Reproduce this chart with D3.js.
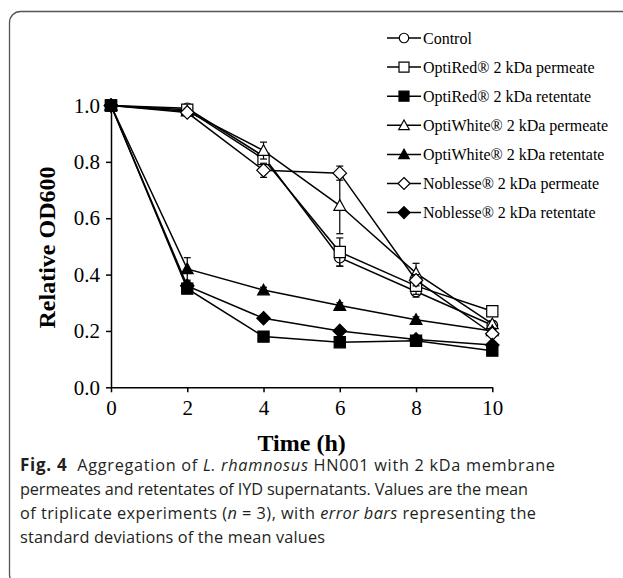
<!DOCTYPE html>
<html>
<head>
<meta charset="utf-8">
<script src="https://cdn.jsdelivr.net/npm/d3@7"></script>
<style>
  body { margin: 0; background: #fff; }
  .axis path, .axis line { stroke: #000; stroke-width: 1.5px; }
  .axis text { font-family: "Liberation Serif", "Times New Roman", serif; font-size: 21px; fill: #000; }
  .axis-title { font-family: "Liberation Serif", "Times New Roman", serif; font-size: 24px; font-weight: bold; fill: #000; }
  .legend text { font-family: "Liberation Serif", "Times New Roman", serif; font-size: 16px; fill: #000; }
  .caption { font-family: "Open Sans", "Noto Sans", sans-serif; font-size: 16.3px; fill: #231f20; }
</style>
</head>
<body>
<svg id="chart" width="623" height="578"></svg>
<script>
// Sampling times (h)
const times = [0, 2, 4, 6, 8, 10];
const xTicks = [0, 2, 4, 6, 8, 10];
const yTicks = [0, 0.2, 0.4, 0.6, 0.8, 1.0];

const seriesNames = [
  'Control',
  'OptiRed® 2 kDa permeate',
  'OptiRed® 2 kDa retentate',
  'OptiWhite® 2 kDa permeate',
  'OptiWhite® 2 kDa retentate',
  'Noblesse® 2 kDa permeate',
  'Noblesse® 2 kDa retentate'
];
const seriesShapes = ['circle', 'square', 'square', 'triangle', 'triangle', 'diamond', 'diamond'];
const seriesFilled = [false, false, true, false, true, false, true];

// Relative OD600 means
const control            = [1.00, 0.99, 0.82, 0.46, 0.34, 0.22];
const optiRedPermeate    = [1.00, 0.985, 0.81, 0.48, 0.36, 0.27];
const optiRedRetentate   = [1.00, 0.35, 0.18, 0.16, 0.165, 0.13];
const optiWhitePermeate  = [1.00, 0.98, 0.84, 0.645, 0.405, 0.225];
const optiWhiteRetentate = [1.00, 0.42, 0.345, 0.29, 0.24, 0.20];
const noblessePermeate   = [1.00, 0.975, 0.77, 0.76, 0.38, 0.19];
const noblesseRetentate  = [1.00, 0.36, 0.245, 0.20, 0.17, 0.15];

// Standard deviations
const controlSd            = [0, 0.01, 0.02, 0.03, 0.02, 0.01];
const optiRedPermeateSd    = [0, 0.01, 0.03, 0.05, 0.03, 0.01];
const optiRedRetentateSd   = [0, 0.01, 0.01, 0.01, 0.01, 0.01];
const optiWhitePermeateSd  = [0, 0.01, 0.03, 0.10, 0.035, 0.01];
const optiWhiteRetentateSd = [0, 0.04, 0.01, 0.01, 0.01, 0.01];
const noblessePermeateSd   = [0, 0.01, 0.025, 0.025, 0.02, 0.01];
const noblesseRetentateSd  = [0, 0.01, 0.01, 0.01, 0.01, 0.01];

const seriesValues = [control, optiRedPermeate, optiRedRetentate, optiWhitePermeate,
  optiWhiteRetentate, noblessePermeate, noblesseRetentate];
const seriesSd = [controlSd, optiRedPermeateSd, optiRedRetentateSd, optiWhitePermeateSd,
  optiWhiteRetentateSd, noblessePermeateSd, noblesseRetentateSd];

function markerPath(shape, s) {
  const p = d3.path();
  if (shape === 'circle') {
    p.arc(0, 0, s * 0.95, 0, 2 * Math.PI);
  } else if (shape === 'square') {
    p.rect(-s, -s, 2 * s, 2 * s);
  } else if (shape === 'triangle') {
    p.moveTo(0, -s * 1.05);
    p.lineTo(s * 1.05, s * 0.85);
    p.lineTo(-s * 1.05, s * 0.85);
    p.closePath();
  } else {
    const d = s * 1.2;
    p.moveTo(0, -d); p.lineTo(d, 0); p.lineTo(0, d); p.lineTo(-d, 0);
    p.closePath();
  }
  return p.toString();
}

class AggregationChart {

  constructor(_config, _data) {
    this.config = {
      parentElement: _config.parentElement,
      margin: {top: 105.5, left: 111},
      innerWidth: 381.3,
      innerHeight: 281.8,
      markerSize: 5.6
    };
    this.data = _data;
    this.initVis();
  }

  initVis() {
    let vis = this;
    vis.svg = d3.select(vis.config.parentElement);

    // rounded frame round the figure
    vis.svg.append('rect')
      .attr('x', 9.5).attr('y', 11.5)
      .attr('width', 640).attr('height', 574)
      .attr('rx', 11).attr('ry', 11)
      .attr('fill', 'none')
      .attr('stroke', '#555')
      .attr('stroke-width', 1.3);

    vis.xScale = d3.scaleLinear().domain([0, 10]).range([0, vis.config.innerWidth]);
    vis.yScale = d3.scaleLinear().domain([0, 1]).range([vis.config.innerHeight, 0]);

    vis.chart = vis.svg.append('g')
      .attr('transform', `translate(${vis.config.margin.left},${vis.config.margin.top})`);

    vis.xAxis = d3.axisBottom(vis.xScale).tickValues(xTicks)
      .tickSize(5).tickSizeOuter(0).tickPadding(10).tickFormat(d3.format('d'));
    vis.yAxis = d3.axisLeft(vis.yScale).tickValues(yTicks)
      .tickSize(5).tickSizeOuter(0).tickPadding(6).tickFormat(d3.format('.1f'));

    vis.xAxisG = vis.chart.append('g')
      .attr('class', 'axis x-axis')
      .attr('transform', `translate(0,${vis.config.innerHeight})`);
    vis.yAxisG = vis.chart.append('g')
      .attr('class', 'axis y-axis');

    vis.line = d3.line()
      .x(d => vis.xScale(d.t))
      .y(d => vis.yScale(d.v));

    vis.renderVis();
  }

  renderVis() {
    let vis = this;
    const m = vis.config.markerSize;

    vis.xAxisG.call(vis.xAxis);
    vis.yAxisG.call(vis.yAxis);
    vis.xAxisG.selectAll('text').attr('dy', '0.71em').attr('y', 13);

    // series: line, error bars, markers (later series drawn on top)
    const seriesG = vis.chart.selectAll('.series')
      .data(vis.data)
      .join('g')
      .attr('class', 'series');

    seriesG.append('path')
      .attr('fill', 'none')
      .attr('stroke', '#000')
      .attr('stroke-width', 1.5)
      .attr('d', s => vis.line(s.points));

    seriesG.each(function(s) {
      const g = d3.select(this);
      const bars = g.selectAll('.err')
        .data(s.points.filter(p => p.sd > 0))
        .join('g')
        .attr('class', 'err')
        .attr('stroke', '#000')
        .attr('stroke-width', 1.2);
      bars.append('line')
        .attr('x1', p => vis.xScale(p.t)).attr('x2', p => vis.xScale(p.t))
        .attr('y1', p => vis.yScale(p.v + p.sd)).attr('y2', p => vis.yScale(p.v - p.sd));
      [1, -1].forEach(sign => {
        bars.append('line')
          .attr('x1', p => vis.xScale(p.t) - 3.5).attr('x2', p => vis.xScale(p.t) + 3.5)
          .attr('y1', p => vis.yScale(p.v + sign * p.sd))
          .attr('y2', p => vis.yScale(p.v + sign * p.sd));
      });

      g.selectAll('.marker')
        .data(s.points)
        .join('path')
        .attr('class', 'marker')
        .attr('transform', p => `translate(${vis.xScale(p.t)},${vis.yScale(p.v)})`)
        .attr('d', markerPath(s.shape, m))
        .attr('fill', s.filled ? '#000' : '#fff')
        .attr('stroke', '#000')
        .attr('stroke-width', 1.2);
    });

    // axis titles
    vis.svg.append('text')
      .attr('class', 'axis-title')
      .attr('text-anchor', 'middle')
      .attr('transform', 'translate(55,247.5) rotate(-90)')
      .text('Relative OD600');

    vis.svg.append('text')
      .attr('class', 'axis-title')
      .attr('text-anchor', 'middle')
      .attr('x', vis.config.margin.left + vis.config.innerWidth / 2)
      .attr('y', 451)
      .text('Time (h)');

    // legend
    const legend = vis.svg.append('g')
      .attr('class', 'legend')
      .attr('transform', 'translate(387,38)');
    const item = legend.selectAll('.item')
      .data(vis.data)
      .join('g')
      .attr('class', 'item')
      .attr('transform', (s, i) => `translate(0,${i * 29.1})`);
    item.append('line')
      .attr('x1', 0).attr('x2', 34)
      .attr('stroke', '#000').attr('stroke-width', 1.5);
    item.append('path')
      .attr('transform', 'translate(17,0)')
      .attr('d', s => markerPath(s.shape, m - 0.6))
      .attr('fill', s => s.filled ? '#000' : '#fff')
      .attr('stroke', '#000')
      .attr('stroke-width', 1.2);
    item.append('text')
      .attr('x', 36)
      .attr('y', 5.5)
      .text(s => s.name);
  }
}

const data = seriesNames.map((name, i) => ({
  name: name,
  shape: seriesShapes[i],
  filled: seriesFilled[i],
  points: times.map((t, j) => ({t: t, v: seriesValues[i][j], sd: seriesSd[i][j]}))
}));

new AggregationChart({parentElement: '#chart'}, data);

// caption under the chart, one text element per line, fitted to the reference widths
const captionLines = [
  [{t: 'Fig. 4', b: true}, {t: '\u00a0 Aggregation of '}, {t: 'L. rhamnosus', i: true}, {t: ' HN001 with 2 kDa membrane'}],
  [{t: 'permeates and retentates of IYD supernatants. Values are the mean'}],
  [{t: 'of triplicate experiments ('}, {t: 'n', i: true}, {t: ' = 3), with '}, {t: 'error bars', i: true}, {t: ' representing the'}],
  [{t: 'standard deviations of the mean values'}]
];
const captionWidths = [535, 508, 516, 305];
captionLines.forEach((parts, li) => {
  const line = d3.select('#chart').append('text')
    .attr('class', 'caption')
    .attr('x', 20)
    .attr('y', 471 + li * 24)
    .attr('textLength', captionWidths[li])
    .attr('lengthAdjust', 'spacing');
  parts.forEach(part => {
    const ts = line.append('tspan').text(part.t);
    if (part.b) ts.attr('font-weight', 'bold').attr('font-size', '17px');
    if (part.i) ts.attr('font-style', 'italic');
  });
});
</script>
</body>
</html>
